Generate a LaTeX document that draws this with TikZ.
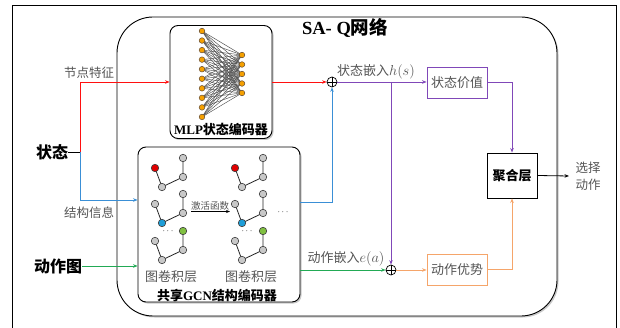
\documentclass[tikz,border=0pt]{standalone}
\usepackage{fontspec}
\setmainfont{Liberation Serif}
\newfontfamily\cjk{Noto Sans CJK SC}
\usetikzlibrary{arrows.meta,shadows,calc}
\definecolor{cred}{HTML}{FF1010}
\definecolor{cblue}{HTML}{3A8FD6}
\definecolor{cpurple}{HTML}{8048B8}
\definecolor{cgreen}{HTML}{22AA55}
\definecolor{corange}{HTML}{F5A56A}
\definecolor{txtgray}{HTML}{555555}
\definecolor{nodegray}{HTML}{C8C8C8}
\definecolor{nodeline}{HTML}{404040}
\definecolor{gred}{HTML}{E00000}
\definecolor{gblue}{HTML}{1E9ED8}
\definecolor{ggreen}{HTML}{80C040}
\definecolor{morange}{HTML}{F5A000}
\begin{document}
\begin{tikzpicture}[x=1pt,y=-1pt,
  conn/.style={line width=0.8pt,-{Stealth[length=4.5pt,width=3.5pt]}},
  plain/.style={line width=0.8pt},
  shbox/.style={draw,line width=0.9pt,rounded corners=8pt,fill=white,
    drop shadow={shadow xshift=1.5pt,shadow yshift=-1.5pt,fill=gray!70,opacity=0.6}},
  lbl/.style={text=txtgray,font=\cjk\fontsize{12.5}{14}\selectfont,inner sep=0pt},
  boldlbl/.style={font=\bfseries\fontsize{13}{15}\selectfont,inner sep=0pt},
  bigin/.style={font=\cjk\bfseries\fontsize{16}{18}\selectfont,inner sep=0pt},
  sbox/.style={draw,line width=0.9pt,minimum width=60pt,minimum height=31pt,inner sep=0pt,
    text=txtgray,font=\cjk\fontsize{13}{15}\selectfont},
  oplus/.style={circle,draw,line width=0.7pt,minimum size=10pt,inner sep=0pt},
  mnode/.style={circle,draw=nodeline!80!orange,fill=morange,line width=0.5pt,minimum size=5.6pt,inner sep=0pt},
  gnode/.style={circle,draw=nodeline,fill=nodegray,line width=0.6pt,minimum size=7.5pt,inner sep=0pt},
]
\useasboundingbox (0,0) rectangle (620,328);
% outer frame
\draw[line width=0.8pt] (12,340) -- (12,5) -- (616,5) -- (616,340);
% big rounded box
\draw[line width=0.9pt,rounded corners=36pt,fill=white,
  drop shadow={shadow xshift=1.5pt,shadow yshift=-1.5pt,fill=gray!70,opacity=0.6}]
  (117,17) rectangle (557,316);
\node[inner sep=0pt,font=\bfseries\fontsize{18.5}{20}\selectfont] (title) at (345,28)
  {SA- Q{\cjk\bfseries 网络}};

% MLP box
\node[shbox,minimum width=102pt,minimum height=113pt] (mlp) at (221,82) {};
\foreach \i in {0,...,9} {\coordinate (lc\i) at (202,{31+9.55*\i});}
\foreach \j in {0,...,4} {\coordinate (rc\j) at (242,{55+9.5*\j});}
\foreach \i in {0,...,9} {\foreach \j in {0,...,4} {\draw[line width=0.45pt,color=black!70] (lc\i) -- (rc\j);}}
\foreach \i in {0,...,9} {\node[mnode] (ln\i) at (lc\i) {};}
\foreach \j in {0,...,4} {\node[mnode] (rn\j) at (rc\j) {};}
\node[boldlbl] (mlplab) at (221,129) {MLP{\cjk\bfseries 状态编码器}};

% GCN box
\node[shbox,minimum width=162pt,minimum height=155pt] (gcn) at (219,224.5) {};
\foreach \dx [count=\c] in {0,80} {
  \foreach \dy/\r in {0/1,36/2,73/3} {
    \coordinate (ga\c\r) at ({155+\dx},{168+\dy});
    \coordinate (gb\c\r) at ({183+\dx},{158+\dy});
    \coordinate (gc\c\r) at ({183+\dx},{177+\dy});
    \coordinate (gd\c\r) at ({162+\dx},{187+\dy});
    \draw[line width=0.8pt,color=black!85] (ga\c\r) -- (gd\c\r) -- (gc\c\r) -- (gb\c\r);
  }
  \node[gnode,fill=gred] (na\c1) at (ga\c1) {};
  \node[gnode] (nb\c1) at (gb\c1) {};
  \node[gnode] (nc\c1) at (gc\c1) {};
  \node[gnode] (nd\c1) at (gd\c1) {};
  \node[gnode] (na\c2) at (ga\c2) {};
  \node[gnode] (nb\c2) at (gb\c2) {};
  \node[gnode] (nc\c2) at (gc\c2) {};
  \node[gnode,fill=gblue] (nd\c2) at (gd\c2) {};
  \node[gnode] (na\c3) at (ga\c3) {};
  \node[gnode,fill=ggreen] (nb\c3) at (gb\c3) {};
  \node[gnode] (nc\c3) at (gc\c3) {};
  \node[gnode] (nd\c3) at (gd\c3) {};
}
\node[inner sep=0pt,font=\fontsize{9}{10}\selectfont] (dots1) at (168,231) {$\cdots$};
\node[inner sep=0pt,font=\fontsize{9}{10}\selectfont] (dots2) at (247,231) {$\cdots$};
\node[inner sep=0pt,font=\fontsize{9}{10}\selectfont] (dots3) at (283,212) {$\cdots$};
\coordinate (acts) at (191,211.5);
\coordinate (acte) at (230,211.5);
\draw[line width=0.6pt,-{Stealth[length=4pt,width=3pt]}] (acts) -- (acte);
\node[text=txtgray,font=\cjk\fontsize{9.5}{11}\selectfont,inner sep=0pt] (actlab) at (210,205.5) {激活函数};
\node[lbl,font=\cjk\fontsize{13}{15}\selectfont] (gcl1) at (171,277) {图卷积层};
\node[lbl,font=\cjk\fontsize{13}{15}\selectfont] (gcl2) at (251,277) {图卷积层};
\node[boldlbl] (gcnlab) at (217,296) {{\cjk\bfseries 共享}GCN{\cjk\bfseries 结构编码器}};

% inputs
\node[bigin] (state) at (52,152) {状态};
\node[bigin] (action) at (58,266) {动作图};
\coordinate (j) at (80,152);
\draw[plain] (state.east) -- (j);
\draw[conn,cred] (j) |- (mlp.west);
\node[lbl] (nflab) at (89,73) {节点特征};
\draw[conn,cblue] (j) |- ($(gcn.west)+(0,-24.5)$);
\node[lbl] (silab) at (89,213) {结构信息};
\draw[conn,cgreen] (action.east) -- (gcn.west |- action.east);

% sums
\node[oplus] (p1) at (332,82) {};
\draw[line width=0.7pt] (p1.north) -- (p1.south) (p1.west) -- (p1.east);
\node[oplus] (p2) at (391,270) {};
\draw[line width=0.7pt] (p2.north) -- (p2.south) (p2.west) -- (p2.east);

\draw[conn,cred] (mlp.east) -- (p1.west);
\draw[conn,cblue] ($(gcn.east)+(0,-22.5)$) -| (p1.south);
\draw[conn,cgreen] (gcn.east |- p2) -- (p2.west);

% heads
\node[sbox,draw=cpurple] (sv) at (457,82.5) {状态价值};
\node[sbox,draw=corange] (adv) at (457,269.5) {动作优势};
\node[draw,line width=0.9pt,minimum width=50pt,minimum height=45pt,inner sep=0pt,
  font=\cjk\bfseries\fontsize{13}{15}\selectfont] (agg) at (512,175.5) {聚合层};

\draw[conn,cpurple] (p1.east) -- (p1.east -| sv.west);
\node[text=txtgray,inner sep=0pt,font=\cjk\fontsize{13}{15}\selectfont] (hlab) at (376,72) {状态嵌入{\fontsize{15.5}{17}\selectfont$h(s)$}};
\draw[conn,cpurple] (p2.north |- p1) -- (p2.north);
\draw[conn,cpurple] (sv.east) -| (agg.north);
\node[text=txtgray,inner sep=0pt,font=\cjk\fontsize{13}{15}\selectfont] (elab) at (346,259) {动作嵌入{\fontsize{15.5}{17}\selectfont$e(a)$}};
\draw[conn,corange] (p2.east) -- (p2.east -| adv.west);
\draw[conn,corange] (adv.east) -| (agg.south);

\coordinate (out) at (569,176);
\draw[conn,black] (agg.east) -- (out);
\node[text=txtgray,inner sep=0pt,align=center,font=\cjk\fontsize{12.5}{17}\selectfont] (outlab) at (588,176) {选择\\动作};
\end{tikzpicture}
\end{document}
